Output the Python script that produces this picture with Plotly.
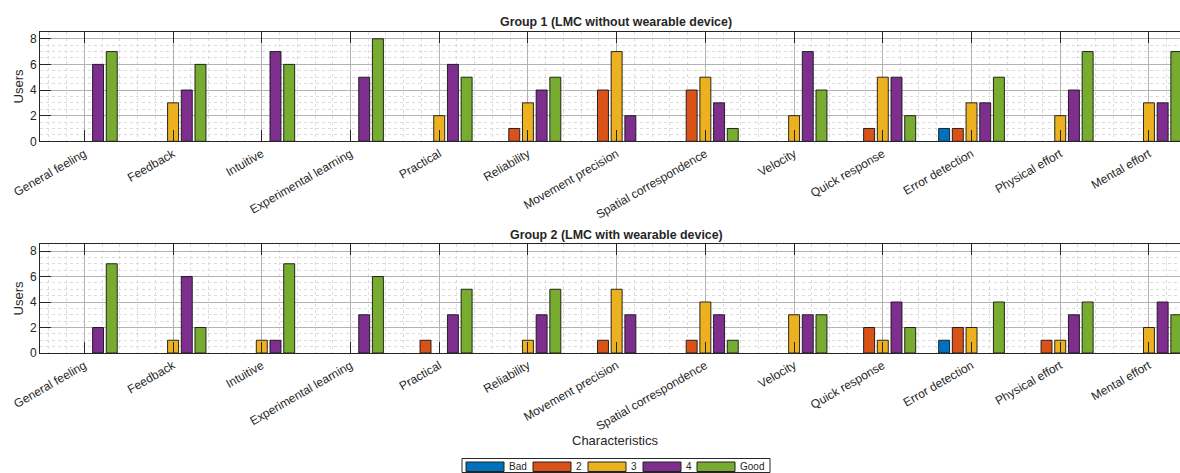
import plotly.graph_objects as go

categories = ["General feeling", "Feedback", "Intuitive", "Experimental learning",
              "Practical", "Reliability", "Movement precision", "Spatial correspondence",
              "Velocity", "Quick response", "Error detection", "Physical effort", "Mental effort"]
series_names = ["Bad", "2", "3", "4", "Good"]
series_colors = ["#0072BD", "#D95319", "#EDB120", "#7E2F8E", "#77AC30"]

# Group 1 (LMC without wearable device)
g1_bad = [0, 0, 0, 0, 0, 0, 0, 0, 0, 0, 1, 0, 0]
g1_2 = [0, 0, 0, 0, 0, 1, 4, 4, 0, 1, 1, 0, 0]
g1_3 = [0, 3, 0, 0, 2, 3, 7, 5, 2, 5, 3, 2, 3]
g1_4 = [6, 4, 7, 5, 6, 4, 2, 3, 7, 5, 3, 4, 3]
g1_good = [7, 6, 6, 8, 5, 5, 0, 1, 4, 2, 5, 7, 7]

# Group 2 (LMC with wearable device)
g2_bad = [0, 0, 0, 0, 0, 0, 0, 0, 0, 0, 1, 0, 0]
g2_2 = [0, 0, 0, 0, 1, 0, 1, 1, 0, 2, 2, 1, 0]
g2_3 = [0, 1, 1, 0, 0, 1, 5, 4, 3, 1, 2, 1, 2]
g2_4 = [2, 6, 1, 3, 3, 3, 3, 3, 3, 4, 0, 3, 4]
g2_good = [7, 2, 7, 6, 5, 5, 0, 1, 3, 2, 4, 4, 3]

y_ticks = [0, 2, 4, 6, 8]

groups = [
    ("Group 1 (LMC without wearable device)", [g1_bad, g1_2, g1_3, g1_4, g1_good]),
    ("Group 2 (LMC with wearable device)", [g2_bad, g2_2, g2_3, g2_4, g2_good]),
]

W, H = 1180, 473
FONT = "Liberation Sans, Arial, Helvetica, sans-serif"
TXT = "#262626"
GRID = "#b3b3b3"
MINOR = "#dcdcdc"

def py(p):
    return 1 - p / H

def px(p):
    return p / W

fig = go.Figure()
xpos = list(range(len(categories)))

for gi, (title, series) in enumerate(groups):
    xa = "x" if gi == 0 else "x2"
    ya = "y" if gi == 0 else "y2"
    for name, color, vals in zip(series_names, series_colors, series):
        fig.add_trace(go.Bar(
            x=xpos, y=vals, name=name, xaxis=xa, yaxis=ya,
            marker=dict(color=color,
                        line=dict(color="rgba(20,20,20,0.9)",
                                  width=[1 if v else 0 for v in vals])),
            showlegend=False,
        ))

panel_y = [(31.7, 141.3), (244.0, 353.0)]

def xaxis_cfg(anchor, domain_y):
    return dict(
        anchor=anchor, domain=[px(40), 1.0], range=[-0.5, 12.35],
        tickmode="array", tickvals=xpos, ticktext=categories, tickangle=-30,
        ticks="inside", ticklen=11, tickcolor=TXT, tickwidth=1,
        showline=True, linecolor=TXT, linewidth=1, mirror="ticks",
        showgrid=True, gridcolor=GRID, gridwidth=1, zeroline=False,
        minor=dict(dtick=0.2, tick0=0, showgrid=True, gridcolor=MINOR, griddash="dot", ticks=""),
        tickfont=dict(family=FONT, size=12, color=TXT), automargin=False,
    )

def yaxis_cfg(anchor, domain):
    return dict(
        anchor=anchor, domain=domain, range=[0, 8.55],
        tickmode="array", tickvals=y_ticks,
        ticks="inside", ticklen=11, tickcolor=TXT, tickwidth=1,
        showline=True, linecolor=TXT, linewidth=1, mirror=False,
        showgrid=True, gridcolor=GRID, gridwidth=1, zeroline=False,
        minor=dict(dtick=0.5, showgrid=True, gridcolor=MINOR, griddash="dot", ticks=""),
        tickfont=dict(family=FONT, size=12, color=TXT),
        title=dict(text="Users", font=dict(family=FONT, size=13, color=TXT), standoff=3),
        automargin=False,
    )

d1 = [py(panel_y[0][1]), py(panel_y[0][0])]
d2 = [py(panel_y[1][1]), py(panel_y[1][0])]

fig.update_layout(
    width=W, height=H,
    margin=dict(l=0, r=0, t=0, b=0),
    paper_bgcolor="white", plot_bgcolor="white",
    barmode="group", bargap=0.228, bargroupgap=0.2,
    showlegend=False,
    font=dict(family=FONT, color=TXT),
    xaxis=xaxis_cfg("y", d1),
    yaxis=yaxis_cfg("x", d1),
    xaxis2=xaxis_cfg("y2", d2),
    yaxis2=yaxis_cfg("x2", d2),
)

annotations = []
shapes = []
title_y = [22, 235]
for gi, (title, _) in enumerate(groups):
    annotations.append(dict(
        xref="paper", yref="paper", x=px(616), y=py(title_y[gi]),
        text="<b>" + title + "</b>", showarrow=False,
        xanchor="center", yanchor="middle",
        font=dict(family=FONT, size=12.4, color=TXT),
    ))

annotations.append(dict(
    xref="paper", yref="paper", x=px(615), y=py(440),
    text="Characteristics", showarrow=False, xanchor="center", yanchor="middle",
    font=dict(family=FONT, size=13, color=TXT),
))

# custom legend (wide patches like the original)
shapes.append(dict(type="rect", xref="paper", yref="paper",
                   x0=px(462), x1=px(770), y0=py(472.5), y1=py(458.5),
                   line=dict(color=TXT, width=1), fillcolor="white"))
legend_x = [466, 533, 588, 643, 697]
for name, color, lx in zip(series_names, series_colors, legend_x):
    shapes.append(dict(type="rect", xref="paper", yref="paper",
                       x0=px(lx), x1=px(lx + 38), y0=py(471.5), y1=py(462),
                       line=dict(color="#222222", width=1), fillcolor=color))
    annotations.append(dict(
        xref="paper", yref="paper", x=px(lx + 41), y=py(466.5),
        text=name, showarrow=False, xanchor="left", yanchor="middle",
        font=dict(family=FONT, size=10, color=TXT),
    ))

fig.update_layout(annotations=annotations, shapes=shapes)
fig.write_html(
    "out.html",
    config={"displayModeBar": False},
    post_script="document.body.style.margin='0';document.body.style.padding='0';"
                "document.body.style.overflow='hidden';",
)
